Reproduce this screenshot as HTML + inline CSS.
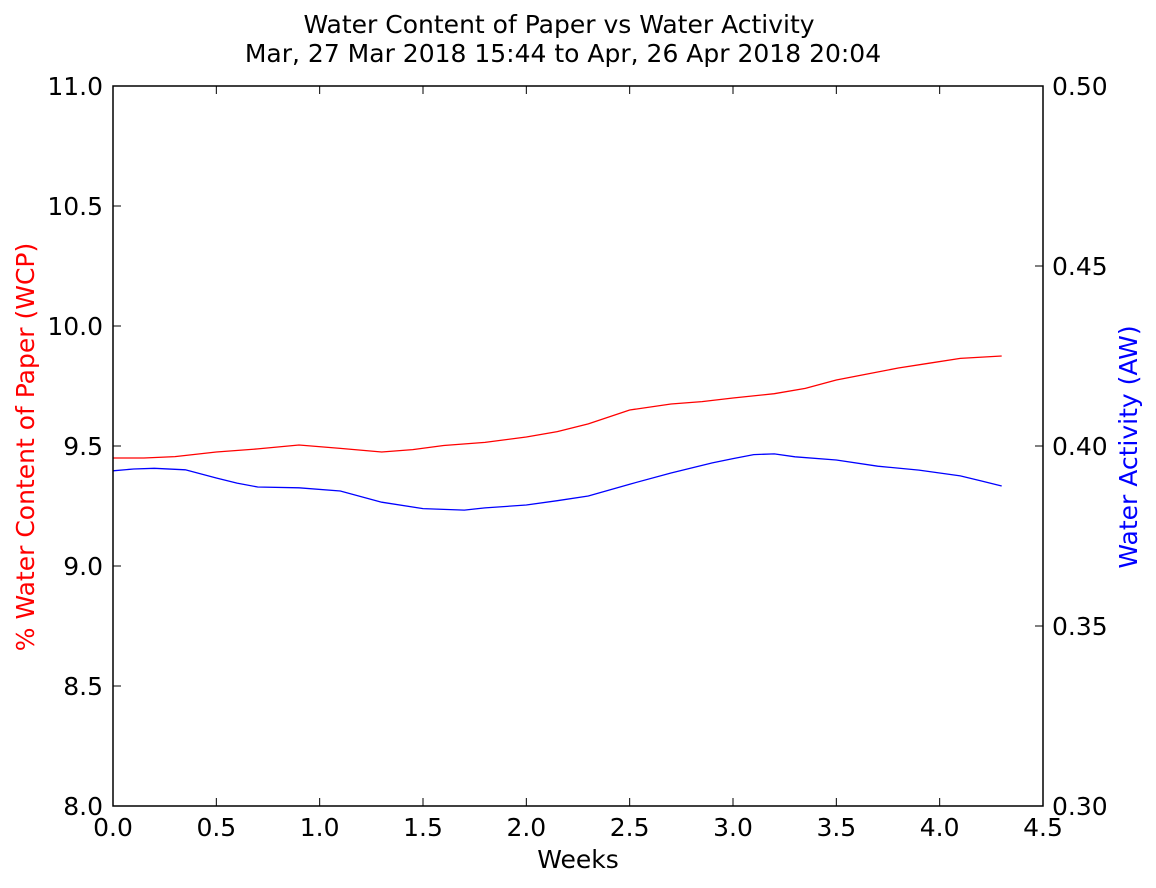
<!DOCTYPE html>
<html><head><meta charset="utf-8"><style>
body{margin:0;background:#fff;}
svg{display:block;font-family:"DejaVu Sans","Liberation Sans",sans-serif;}
</style></head><body>
<svg id="chart" width="1156" height="888" xmlns="http://www.w3.org/2000/svg">
<rect width="1156" height="888" fill="#fff"/>
<text x="559" y="33" text-anchor="middle" font-size="25">Water Content of Paper vs Water Activity</text>
<text x="563" y="62" text-anchor="middle" font-size="25">Mar, 27 Mar 2018 15:44 to Apr, 26 Apr 2018 20:04</text>
<text x="578" y="868" text-anchor="middle" font-size="25">Weeks</text>
<text transform="translate(34,447) rotate(-90)" text-anchor="middle" font-size="25" fill="#ff0000">% Water Content of Paper (WCP)</text>
<text transform="translate(1137,447) rotate(-90)" text-anchor="middle" font-size="25" fill="#0000ff">Water Activity (AW)</text>
<g id="ticks"></g>
<path id="wcp-line" fill="none" stroke="#ff0000" stroke-width="1.3"/>
<path id="aw-line" fill="none" stroke="#0000ff" stroke-width="1.3"/>
<rect x="113" y="86" width="930" height="720" fill="none" stroke="#000" stroke-width="1.5"/>
</svg>
<script>
const xTicks=[0,0.5,1,1.5,2,2.5,3,3.5,4,4.5];
const xTickLabels=["0.0","0.5","1.0","1.5","2.0","2.5","3.0","3.5","4.0","4.5"];
const leftTicks=[8,8.5,9,9.5,10,10.5,11];
const leftTickLabels=["8.0","8.5","9.0","9.5","10.0","10.5","11.0"];
const rightTicks=[0.3,0.35,0.4,0.45,0.5];
const rightTickLabels=["0.30","0.35","0.40","0.45","0.50"];
const wcpWeeks=[0,0.15,0.3,0.5,0.7,0.9,1.1,1.3,1.45,1.6,1.8,2.0,2.15,2.3,2.5,2.7,2.85,3.0,3.2,3.35,3.5,3.65,3.8,3.95,4.1,4.3];
const wcpValues=[9.45,9.45,9.456,9.475,9.488,9.504,9.49,9.475,9.485,9.502,9.515,9.5375,9.56,9.592,9.65,9.675,9.685,9.70,9.718,9.74,9.775,9.80,9.825,9.845,9.865,9.875];
const awWeeks=[0,0.1,0.2,0.35,0.5,0.6,0.7,0.9,1.1,1.3,1.5,1.6,1.7,1.8,2.0,2.15,2.3,2.5,2.7,2.9,3.0,3.1,3.2,3.3,3.5,3.7,3.9,4.1,4.2,4.3];
const awValues=[0.3931,0.3936,0.3938,0.3934,0.3911,0.3897,0.3886,0.3884,0.3875,0.3844,0.3826,0.3824,0.3822,0.3828,0.3836,0.3848,0.3861,0.3894,0.3925,0.3953,0.3965,0.3976,0.3978,0.3970,0.3961,0.3944,0.3933,0.3917,0.3903,0.3889];
const X=v=>113+v/4.5*930, YL=v=>806-(v-8)/3*720, YR=v=>806-(v-0.3)/0.2*720;
const NS="http://www.w3.org/2000/svg";
const g=document.getElementById('ticks');
function mk(tag,attrs,txt){const e=document.createElementNS(NS,tag);for(const k in attrs)e.setAttribute(k,attrs[k]);if(txt!==undefined)e.textContent=txt;g.appendChild(e);return e;}
xTicks.forEach((t,i)=>{const x=X(t);
const a=mk('line',{x1:x,x2:x,y1:806,y2:798,stroke:'#000'});
const b=mk('line',{x1:x,x2:x,y1:86,y2:94,stroke:'#000'});
const l=mk('text',{x:x,y:836,'text-anchor':'middle','font-size':25},xTickLabels[i]);});
leftTicks.forEach((t,i)=>{const y=YL(t);
const a=mk('line',{x1:113,x2:121,y1:y,y2:y,stroke:'#000'});
const l=mk('text',{x:103,y:y+9,'text-anchor':'end','font-size':25},leftTickLabels[i]);});
rightTicks.forEach((t,i)=>{const y=YR(t);
const a=mk('line',{x1:1035,x2:1043,y1:y,y2:y,stroke:'#000'});
const l=mk('text',{x:1052,y:y+9,'text-anchor':'start','font-size':25},rightTickLabels[i]);});
document.getElementById('wcp-line').setAttribute('d',wcpWeeks.map((w,i)=>(i?'L':'M')+X(w).toFixed(1)+','+YL(wcpValues[i]).toFixed(1)).join(''));
document.getElementById('aw-line').setAttribute('d',awWeeks.map((w,i)=>(i?'L':'M')+X(w).toFixed(1)+','+YR(awValues[i]).toFixed(1)).join(''));
</script>
</body></html>
